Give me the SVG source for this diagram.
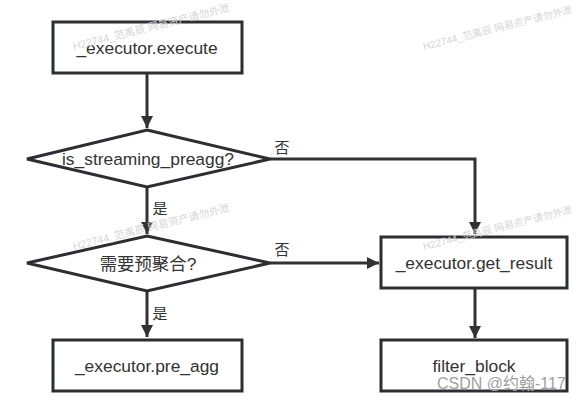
<svg xmlns="http://www.w3.org/2000/svg" width="579" height="401" viewBox="0 0 579 401">
<defs>
<style>
.box{fill:#fff;stroke:#2b2f33;stroke-width:3}
.line{fill:none;stroke:#323232;stroke-width:3}
.t{font-family:"Liberation Sans","Noto Sans CJK SC",sans-serif;font-size:17.4px;fill:#333;text-anchor:middle;dominant-baseline:central}
.lbl{font-family:"Noto Sans CJK SC","Liberation Sans",sans-serif;font-size:15px;fill:#333;text-anchor:middle;dominant-baseline:central}
.wm{font-family:"Liberation Sans","Noto Sans CJK SC",sans-serif;font-size:10.5px;fill:#d6d6d6}
.wmr{font-family:"Liberation Sans","Noto Sans CJK SC",sans-serif;font-size:10px;fill:#d6d6d6}
.csdn{font-family:"Liberation Sans","Noto Sans CJK SC",sans-serif;font-size:16px;fill:#a0a0a0}
</style>
<marker id="ah" markerWidth="12" markerHeight="12" viewBox="0 0 12 12" refX="12" refY="6" orient="auto" markerUnits="userSpaceOnUse">
<path d="M0,0 L12,6 L0,12 z" fill="#323232"/>
</marker>
</defs>
<rect width="579" height="401" fill="#fff"/>
<g id="connectors">
<path class="line" d="M147,73 V128" marker-end="url(#ah)"/>
<path class="line" d="M270,159 H475 V234" marker-end="url(#ah)"/>
<path class="line" d="M147,187 V234" marker-end="url(#ah)"/>
<path class="line" d="M270,263 H379" marker-end="url(#ah)"/>
<path class="line" d="M147,291 V337" marker-end="url(#ah)"/>
<path class="line" d="M475,288 V338" marker-end="url(#ah)"/>
<text class="lbl" x="282" y="146">否</text>
<text class="lbl" x="160" y="207">是</text>
<text class="lbl" x="282" y="248">否</text>
<text class="lbl" x="160" y="312">是</text>
</g>
<g id="execute">
<rect class="box" x="53" y="22" width="189" height="51"/>
<text class="t" x="147" y="48">_executor.execute</text>
</g>
<g id="is_streaming">
<polygon class="box" points="147,130 270,159 147,187 27,159"/>
<text class="t" x="148" y="159">is_streaming_preagg?</text>
</g>
<g id="need_preagg">
<polygon class="box" points="147,236 270,263 147,291 27,263"/>
<text class="t" x="148" y="264">需要预聚合?</text>
</g>
<g id="get_result">
<rect class="box" x="381" y="237" width="186" height="51"/>
<text class="t" x="474" y="263">_executor.get_result</text>
</g>
<g id="pre_agg">
<rect class="box" x="53" y="340" width="189" height="51"/>
<text class="t" x="147" y="366">_executor.pre_agg</text>
</g>
<g id="filter_block">
<rect class="box" x="381" y="340" width="186" height="51"/>
<text class="t" x="474" y="366">filter_block</text>
</g>
<g id="watermarks">
<text class="wm" transform="translate(74,50) rotate(-14)">H22744_范禹辰 网易资产请勿外泄</text>
<text class="wmr" transform="translate(424,50) rotate(-14)">H22744_范禹辰 网易资产请勿外泄</text>
<text class="wm" transform="translate(74,250) rotate(-14)">H22744_范禹辰 网易资产请勿外泄</text>
<text class="wmr" transform="translate(424,250) rotate(-14)">H22744_范禹辰 网易资产请勿外泄</text>
<text class="csdn" x="437" y="389">CSDN @约翰-117</text>
</g>
</svg>
